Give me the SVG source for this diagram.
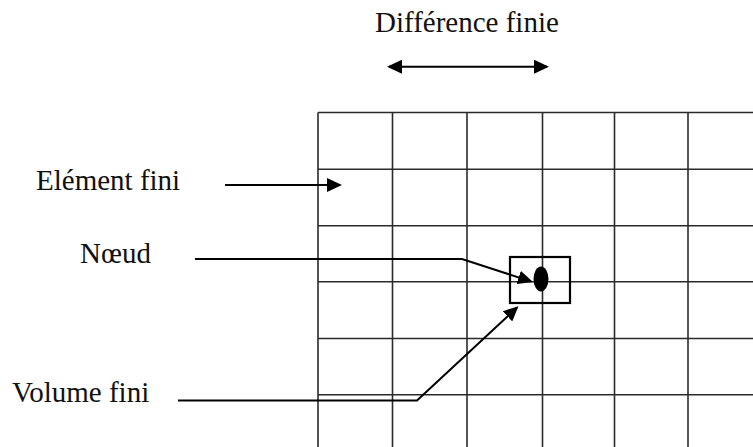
<svg xmlns="http://www.w3.org/2000/svg" width="753" height="447" viewBox="0 0 753 447">
<defs>
<style>
.lbl{font-family:"Liberation Serif","Times New Roman",serif;font-size:29px;fill:#111}
.grid line{stroke:#2a2a2a;stroke-width:1.6}
.conn{fill:none;stroke:#000;stroke-width:2}
</style>
<marker id="ah" viewBox="0 0 15 14" markerWidth="15" markerHeight="14" refX="13" refY="7" orient="auto-start-reverse" markerUnits="userSpaceOnUse">
<path d="M0,0 L15,7 L0,14 z" fill="#000"/>
</marker>
</defs>
<rect width="753" height="447" fill="#fff"/>
<g id="grid" class="grid">
<line x1="318" y1="112.5" x2="318" y2="447"/>
<line x1="392.5" y1="112.5" x2="392.5" y2="447"/>
<line x1="467" y1="112.5" x2="467" y2="447"/>
<line x1="542.5" y1="112.5" x2="542.5" y2="447"/>
<line x1="614.5" y1="112.5" x2="614.5" y2="447"/>
<line x1="688" y1="112.5" x2="688" y2="447"/>
<line x1="318" y1="112.5" x2="753" y2="112.5"/>
<line x1="318" y1="169.3" x2="753" y2="169.3"/>
<line x1="318" y1="225.8" x2="753" y2="225.8"/>
<line x1="318" y1="281.8" x2="753" y2="281.8"/>
<line x1="318" y1="338.5" x2="753" y2="338.5"/>
<line x1="318" y1="394.7" x2="753" y2="394.7"/>
</g>
<g id="node-volume-box">
<rect x="510" y="257" width="60" height="46" fill="none" stroke="#000" stroke-width="2.2"/>
<ellipse cx="541" cy="279" rx="7.5" ry="12.5" fill="#000"/>
</g>
<g id="label-difference"><text class="lbl" x="375" y="32">Différence finie</text></g>
<g id="label-element"><text class="lbl" x="36" y="190">Elément fini</text></g>
<g id="label-noeud"><text class="lbl" x="80" y="263">Nœud</text></g>
<g id="label-volume"><text class="lbl" x="12" y="402">Volume fini</text></g>
<g id="connectors">
<line class="conn" x1="389" y1="66.7" x2="547" y2="66.7" marker-start="url(#ah)" marker-end="url(#ah)"/>
<line class="conn" x1="225" y1="185" x2="340" y2="185" marker-end="url(#ah)"/>
<polyline class="conn" points="195,259 462,259 531,281.5" marker-end="url(#ah)"/>
<polyline class="conn" points="178,400.5 417,400.5 517,307.5" marker-end="url(#ah)"/>
</g>
</svg>
